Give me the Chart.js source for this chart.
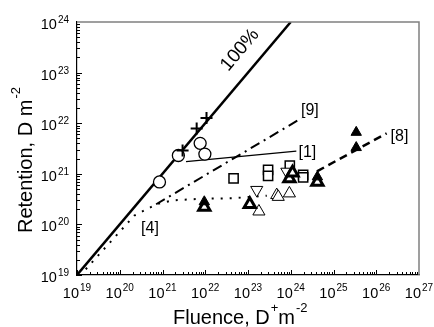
<!DOCTYPE html>
<html>
<head>
<meta charset="utf-8">
<script src="https://cdn.jsdelivr.net/npm/chart.js@4"></script>
<style>
  body { margin: 0; background: #fff; }
  canvas { display: block; }
</style>
</head>
<body>
<canvas id="grafico" width="434" height="327"></canvas>
<script>
// expoentes das marcas dos eixos
const xExpoentes = [19, 20, 21, 22, 23, 24, 25, 26, 27]
const yExpoentes = [19, 20, 21, 22, 23, 24]

// linhas
const linha100X = [1e19, 1e24]
const linha100Y = [1e19, 1e24]
const ref9X = [7.1e20, 1.8e24]
const ref9Y = [2.5e20, 1.26e22]
const ref1X = [3.55e21, 1.35e24]
const ref1Y = [1.74e21, 2.8e21]
const ref8X = [4.1e24, 1.75e26]
const ref8Y = [1.12e21, 6.3e21]
const ref4X = [1.6e19, 2.2e20, 7.2e20, 1.8e21, 7.6e21, 4.6e22, 2.75e23]
const ref4Y = [1.3e19, 1.5e20, 2.5e20, 3.0e20, 3.2e20, 3.3e20, 3.7e20]

// pontos medidos
const circulosX = [8.5e20, 2.35e21, 7.6e21, 9.8e21]
const circulosY = [6.9e20, 2.3e21, 4.0e21, 2.45e21]
const cruzesX = [2.95e21, 6.3e21, 1.07e22]
const cruzesY = [2.9e21, 7.9e21, 1.26e22]
const quadradosX = [4.6e22, 2.95e23, 2.95e23, 9.5e23, 1.95e24, 1.95e24]
const quadradosY = [8.1e20, 1.2e21, 9.1e20, 1.45e21, 9.5e20, 8.5e20]
const triAbertosX = [1.8e23, 4.7e23, 5.1e23, 9.3e23]
const triAbertosY = [1.8e20, 3.8e20, 3.5e20, 4.1e20]
const triBaixoX = [1.6e23, 8.1e23]
const triBaixoY = [4.8e20, 1.1e21]
const triGrossosX = [9.5e21, 1.1e23, 9.3e23, 1.1e24, 4.2e24]
const triGrossosY = [2.2e20, 2.5e20, 8.1e20, 1.05e21, 6.9e20]
const triCheiosX = [3.4e25, 3.4e25, 4.2e24, 9.5e21]
const triCheiosY = [6.6e21, 3.3e21, 8.7e20, 2.8e20]

// rótulos sobre o gráfico
const rotulosTexto = ['100%', '[9]', '[1]', '[8]', '[4]']
const rotulosX = [6.5e22, 2.8e24, 2.45e24, 3.5e26, 5.1e20]
const rotulosY = [2.8e23, 1.8e22, 2.57e21, 5.4e21, 8.3e19]

const pares = (xs, ys) => xs.map((x, i) => ({ x: x, y: ys[i] }))

const fonte = '"Liberation Sans", Arial, sans-serif'

const decoracao = {
    id: 'decoracao',
    afterDraw(chart) {
        const ctx = chart.ctx
        const area = chart.chartArea
        const sx = chart.scales.x
        const sy = chart.scales.y
        ctx.save()
        // moldura superior e direita
        ctx.strokeStyle = '#808080'
        ctx.lineWidth = 1.5
        ctx.beginPath()
        ctx.moveTo(area.left, area.top)
        ctx.lineTo(area.right, area.top)
        ctx.lineTo(area.right, area.bottom)
        ctx.stroke()
        // marcas
        ctx.strokeStyle = '#000'
        ctx.lineWidth = 1
        ctx.beginPath()
        for (let n = 19; n < 27; n++) {
            for (let m = 1; m <= 9; m++) {
                const px = Math.round(sx.getPixelForValue(m * Math.pow(10, n))) + 0.5
                const len = m === 1 ? 5 : 3
                ctx.moveTo(px, area.bottom)
                ctx.lineTo(px, area.bottom - len)
            }
        }
        for (let n = 19; n < 24; n++) {
            for (let m = 1; m <= 9; m++) {
                const py = Math.round(sy.getPixelForValue(m * Math.pow(10, n))) + 0.5
                const len = m === 1 ? 5 : 3
                ctx.moveTo(area.left, py)
                ctx.lineTo(area.left + len, py)
            }
        }
        ctx.stroke()
        // rótulos dos eixos
        ctx.fillStyle = '#000'
        ctx.textBaseline = 'alphabetic'
        const fBase = '14.5px ' + fonte
        const fSup = '10px ' + fonte
        xExpoentes.forEach(function (n) {
            const px = sx.getPixelForValue(Math.pow(10, n))
            ctx.font = fBase
            const w1 = ctx.measureText('10').width
            ctx.font = fSup
            const w2 = ctx.measureText(String(n)).width
            const x0 = px - (w1 + w2 + 1) / 2
            ctx.font = fBase
            ctx.textAlign = 'left'
            ctx.fillText('10', x0, 298)
            ctx.font = fSup
            ctx.fillText(String(n), x0 + w1 + 1, 291)
        })
        yExpoentes.forEach(function (n) {
            const py = sy.getPixelForValue(Math.pow(10, n))
            ctx.font = fSup
            const w2 = ctx.measureText(String(n)).width
            ctx.textAlign = 'left'
            const xSup = 69 - w2
            ctx.fillText(String(n), xSup, py + 1)
            ctx.font = fBase
            ctx.textAlign = 'right'
            ctx.fillText('10', xSup - 1, py + 7)
        })
        // títulos dos eixos
        const fTit = '20px ' + fonte
        const fTitSup = '13px ' + fonte
        ctx.textAlign = 'left'
        ctx.font = fTit
        let x = 173
        ctx.fillText('Fluence, D', x, 324)
        x += ctx.measureText('Fluence, D').width
        ctx.font = fTitSup
        ctx.fillText('+', x + 1, 312)
        x += ctx.measureText('+').width + 1
        ctx.font = fTit
        ctx.fillText('m', x, 324)
        x += ctx.measureText('m').width
        ctx.font = fTitSup
        ctx.fillText('-2', x + 1, 312)

        ctx.save()
        ctx.translate(32, 233)
        ctx.rotate(-Math.PI / 2)
        ctx.font = fTit
        ctx.fillText('Retention, D m', 0, 0)
        const wr = ctx.measureText('Retention, D m').width
        ctx.font = fTitSup
        ctx.fillText('-2', wr + 1, -12)
        ctx.restore()

        // rótulos das curvas
        const angulo = Math.atan2(
            sy.getPixelForValue(1e19) - sy.getPixelForValue(1e24),
            sx.getPixelForValue(1e24) - sx.getPixelForValue(1e19))
        rotulosTexto.forEach(function (t, i) {
            const px = sx.getPixelForValue(rotulosX[i])
            const py = sy.getPixelForValue(rotulosY[i])
            ctx.save()
            ctx.translate(px, py)
            ctx.textAlign = 'center'
            ctx.textBaseline = 'middle'
            if (i === 0) {
                ctx.rotate(-angulo)
                ctx.font = '19px ' + fonte
            } else {
                ctx.font = '16px ' + fonte
            }
            ctx.fillText(t, 0, 0)
            ctx.restore()
        })
        ctx.restore()
    }
}

const linha = (xs, ys, largura, tracejado) => ({
    data: pares(xs, ys),
    showLine: true,
    borderColor: '#000',
    borderWidth: largura,
    borderDash: tracejado,
    pointRadius: 0,
    fill: false
})

const pontos = (xs, ys, estilo, raio, fundo, espessura, rotacao) => ({
    data: pares(xs, ys),
    showLine: false,
    pointStyle: estilo,
    pointRadius: raio,
    pointBackgroundColor: fundo,
    pointBorderColor: '#000',
    pointBorderWidth: espessura,
    pointRotation: rotacao || 0
})

new Chart(document.getElementById('grafico'), {
    type: 'scatter',
    data: {
        datasets: [
            pontos(triCheiosX, triCheiosY, 'triangle', 6, '#000', 1),
            pontos(triGrossosX, triGrossosY, 'triangle', 6.5, '#fff', 3),
            pontos(triBaixoX, triBaixoY, 'triangle', 7, '#fff', 1, 180),
            pontos(triAbertosX, triAbertosY, 'triangle', 7, '#fff', 1),
            pontos(quadradosX, quadradosY, 'rect', 6.5, '#fff', 1.5),
            pontos(cruzesX, cruzesY, 'cross', 6, '#000', 2),
            pontos(circulosX, circulosY, 'circle', 6, '#fff', 1.3),
            linha(linha100X, linha100Y, 2.5, []),
            linha(ref9X, ref9Y, 2, [10, 5, 2, 5]),
            linha(ref1X, ref1Y, 1.3, []),
            linha(ref8X, ref8Y, 2.5, [8, 5]),
            linha(ref4X, ref4Y, 2, [2, 7])
        ]
    },
    options: {
        responsive: false,
        animation: false,
        devicePixelRatio: 1,
        layout: { padding: { left: 77, right: 15, top: 22, bottom: 52 } },
        plugins: { legend: { display: false }, tooltip: { enabled: false } },
        scales: {
            x: {
                type: 'logarithmic', min: 1e19, max: 1e27,
                grid: { display: false, drawTicks: false },
                border: { display: true, color: '#000', width: 1.2 },
                ticks: { display: false }
            },
            y: {
                type: 'logarithmic', min: 1e19, max: 1e24,
                grid: { display: false, drawTicks: false },
                border: { display: true, color: '#000', width: 1.2 },
                ticks: { display: false }
            }
        }
    },
    plugins: [decoracao]
});
</script>
</body>
</html>
